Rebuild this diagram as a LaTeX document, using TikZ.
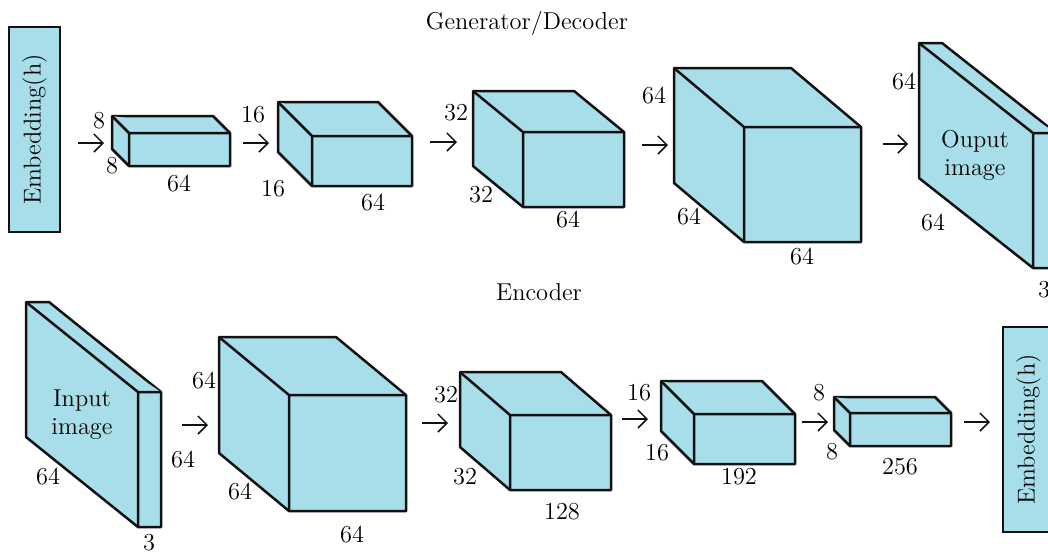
\documentclass[tikz,border=0pt]{standalone}
\usepackage{tikz}
\usetikzlibrary{arrows.meta}
\definecolor{cellfill}{HTML}{A8DEE9}
\definecolor{edge}{HTML}{111111}

% #1 name, (#2,#3) front top-left, (#4,#5) front bottom-right, #6/#7 depth shift up-left
\newcommand{\layerbox}[7]{%
  \coordinate (#1-tl) at (#2,#3);
  \coordinate (#1-br) at (#4,#5);
  \filldraw[cell] (#2-#6,#3-#7) -- (#4-#6,#3-#7) -- (#4,#3) -- (#4,#5) -- (#2,#5) -- (#2-#6,#5-#7) -- cycle;
  \draw[cell] (#2-#6,#3-#7) -- (#2,#3) -- (#4,#3) (#2,#3) -- (#2,#5);
}

\begin{document}
\begin{tikzpicture}[x=0.5pt, y=-0.5pt,
  cell/.style={fill=cellfill, draw=edge, line width=1.25pt, line join=round},
  flow/.style={draw=edge, line width=0.75pt, -{Straight Barb[length=4.5pt,width=9pt]}},
  dim/.style={font=\fontsize{12.2}{14}\selectfont, inner sep=0pt},
  title/.style={font=\fontsize{12.2}{14}\selectfont, inner sep=0pt},
  embed/.style={fill=cellfill, draw=edge, line width=1.25pt, rotate=90,
                minimum width=102.5pt, minimum height=25.5pt, inner sep=0pt,
                font=\fontsize{12.2}{14}\selectfont}
]
  \useasboundingbox (0,0) rectangle (1048,554);
  \fill[white] (0,0) rectangle (1048,554);
  \clip (0,0) rectangle (1048,554);

  % generator / decoder
  \node[title] (gtitle) at (527,23) {Generator/Decoder};
  \node[embed] (embtop) at (34.5,129.5) {Embedding(h)};

  \layerbox{g1}{129}{133}{230}{166}{17}{17}
  \layerbox{g2}{312}{136}{412}{186}{34}{34}
  \layerbox{g3}{523}{132}{624}{207}{50}{41}
  \layerbox{g4}{744}{127}{861}{242}{70}{59}
  \layerbox{gout}{1033}{133}{1056}{268}{114}{90}

  \node[dim] (g1-h) at (99,121) {8};   \node[dim] (g1-d) at (112,166) {8};   \node[dim] (g1-w) at (179,184) {64};
  \node[dim] (g2-h) at (253,115) {16}; \node[dim] (g2-d) at (273,189) {16}; \node[dim] (g2-w) at (373,203) {64};
  \node[dim] (g3-h) at (456,113) {32}; \node[dim] (g3-d) at (481,195) {32}; \node[dim] (g3-w) at (568,220) {64};
  \node[dim] (g4-h) at (654,96) {64};  \node[dim] (g4-d) at (689,217) {64}; \node[dim] (g4-w) at (802,257) {64};
  \node[dim] (gout-h) at (904,82) {64}; \node[dim] (gout-d) at (933,223) {64}; \node[dim] (gout-c) at (1044,290) {3};
  \node[dim, align=center] (gout-txt) at (975,155) {Ouput\\image};

  \coordinate (ga1) at (78,143);  \coordinate (gb1) at (104,143);
  \coordinate (ga2) at (243,143); \coordinate (gb2) at (269,143);
  \coordinate (ga3) at (430,142); \coordinate (gb3) at (457,142);
  \coordinate (ga4) at (642,145); \coordinate (gb4) at (668,145);
  \coordinate (ga5) at (883,144); \coordinate (gb5) at (908,144);
  \foreach \i in {1,...,5} \draw[flow] (ga\i) -- (gb\i);

  % encoder
  \node[title] (etitle) at (539,292) {Encoder};

  \layerbox{ein}{138}{392}{161}{527}{112}{90}
  \layerbox{e2}{289}{395}{406}{511}{70}{58}
  \layerbox{e3}{510}{415}{611}{490}{50}{43}
  \layerbox{e4}{694}{414}{795}{464}{33}{33}
  \layerbox{e5}{850}{413}{951}{446}{16}{16}
  \node[embed] (embbot) at (1028.5,429.5) {Embedding(h)};

  \node[dim, align=center] (ein-txt) at (82,415) {Input\\image};
  \node[dim] (ein-d) at (48,477) {64};  \node[dim] (ein-h) at (183,460) {64}; \node[dim] (ein-c) at (149,543) {3};
  \node[dim] (e2-h) at (204,381) {64};  \node[dim] (e2-d) at (240,492) {64}; \node[dim] (e2-w) at (352,535) {64};
  \node[dim] (e3-h) at (446,395) {32};  \node[dim] (e3-d) at (465,477) {32}; \node[dim] (e3-w) at (562,512) {128};
  \node[dim] (e4-h) at (639,393) {16};  \node[dim] (e4-d) at (657,453) {16}; \node[dim] (e4-w) at (739,477) {192};
  \node[dim] (e5-h) at (819,393) {8};   \node[dim] (e5-d) at (832,452) {8};  \node[dim] (e5-w) at (900,467) {256};

  \coordinate (ea1) at (182,425); \coordinate (eb1) at (208,425);
  \coordinate (ea2) at (422,423); \coordinate (eb2) at (448,423);
  \coordinate (ea3) at (622,419); \coordinate (eb3) at (648,419);
  \coordinate (ea4) at (802,422); \coordinate (eb4) at (828,422);
  \coordinate (ea5) at (964,422); \coordinate (eb5) at (990,422);
  \foreach \i in {1,...,5} \draw[flow] (ea\i) -- (eb\i);
\end{tikzpicture}
\end{document}
